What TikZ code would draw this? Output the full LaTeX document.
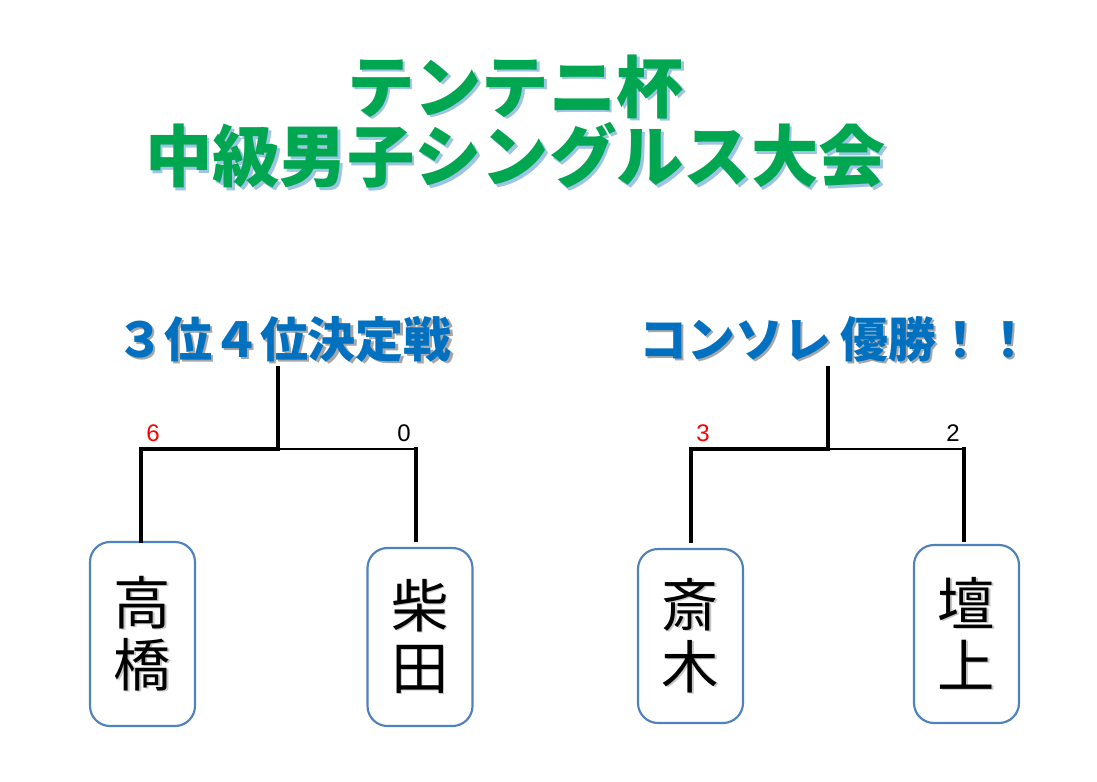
\documentclass[tikz,border=0pt]{standalone}
\usepackage{fontspec}
\setmainfont{Liberation Sans}
\newfontfamily\cjk{Noto Sans CJK JP}
\definecolor{titlegreen}{HTML}{00A650}
\definecolor{titleshadow}{HTML}{9DC3E6}
\definecolor{subblue}{HTML}{0070C0}
\definecolor{subshadow}{HTML}{A6A6A6}
\definecolor{boxblue}{HTML}{4F81BD}
\definecolor{scorered}{HTML}{FF0000}
\definecolor{nameshadow}{HTML}{C8C8C8}
\newcommand{\shadowtext}[3]{\makebox[0pt][l]{\raisebox{-#2}{\hspace{#2}\textcolor{#1}{#3}}}#3}
\begin{document}
\begin{tikzpicture}[x=0.75pt,y=-0.75pt,
  namebox/.style={draw=boxblue,line width=1.6pt,rounded corners=15pt,fill=white,
    minimum width=78.75pt,inner sep=0pt,align=center,
    font=\cjk\fontsize{43}{46.5}\selectfont},
  bracketthick/.style={line width=2.7pt,line cap=rect},
  bracketthin/.style={line width=0.8pt},
  score/.style={font=\fontsize{18}{20}\selectfont,inner sep=0pt},
  greentitle/.style={font=\cjk\bfseries\fontsize{50.5}{51}\selectfont,text=titlegreen,inner sep=0pt,align=center},
  bluetitle/.style={font=\cjk\bfseries\fontsize{36}{38}\selectfont,text=subblue,inner sep=0pt},
]
\useasboundingbox[fill=white] (0,0) rectangle (1097,782);

% main title
\node[greentitle] (title) at (515.5,123) {\shadowtext{titleshadow}{2pt}{テンテニ杯}\\\shadowtext{titleshadow}{2pt}{中級男子シングルス大会}};

% subtitles
\node[bluetitle] (s1) at (284,340) {\shadowtext{subshadow}{1.6pt}{３位４位決定戦}};
\node[bluetitle] (s2) at (836,340) {\shadowtext{subshadow}{1.6pt}{コンソレ\hspace{0.2em}優勝！！}};

% name boxes
\node[namebox,minimum height=138pt] (takahashi) at (142.5,634) {\shadowtext{nameshadow}{1pt}{高}\\\shadowtext{nameshadow}{1pt}{橋}};
\node[namebox,minimum height=133.5pt] (shibata) at (420,637) {\shadowtext{nameshadow}{1pt}{柴}\\\shadowtext{nameshadow}{1pt}{田}};
\node[namebox,minimum height=130.5pt] (saiki) at (690.5,636) {\shadowtext{nameshadow}{1pt}{斎}\\\shadowtext{nameshadow}{1pt}{木}};
\node[namebox,minimum height=133.5pt] (danjo) at (966.5,634) {\shadowtext{nameshadow}{1pt}{壇}\\\shadowtext{nameshadow}{1pt}{上}};

% left bracket
\coordinate (jL) at (278,449);
\coordinate (topL) at (278,368);
\coordinate (jL1) at (141,449);
\coordinate (jL2) at (416,449);
\draw[bracketthin] (jL) -- (jL2);
\draw[bracketthick] (jL1 |- takahashi.north) -- (jL1) -- (jL) -- (topL);
\draw[bracketthick] (jL2 |- shibata.north) ++(0,-7) -- (jL2);

% right bracket
\coordinate (jR) at (828,449);
\coordinate (topR) at (828,368);
\coordinate (jR1) at (691,449);
\coordinate (jR2) at (964,449);
\draw[bracketthin] (jR) -- (jR2);
\draw[bracketthick] (jR1 |- saiki.north) ++(0,-7) -- (jR1) -- (jR) -- (topR);
\draw[bracketthick] (jR2 |- danjo.north) ++(0,-4) -- (jR2);

% scores
\node[score,text=scorered] (sc1) at (153,433) {6};
\node[score] (sc2) at (404,433) {0};
\node[score,text=scorered] (sc3) at (703,433) {3};
\node[score] (sc4) at (953,433) {2};
\end{tikzpicture}
\end{document}
